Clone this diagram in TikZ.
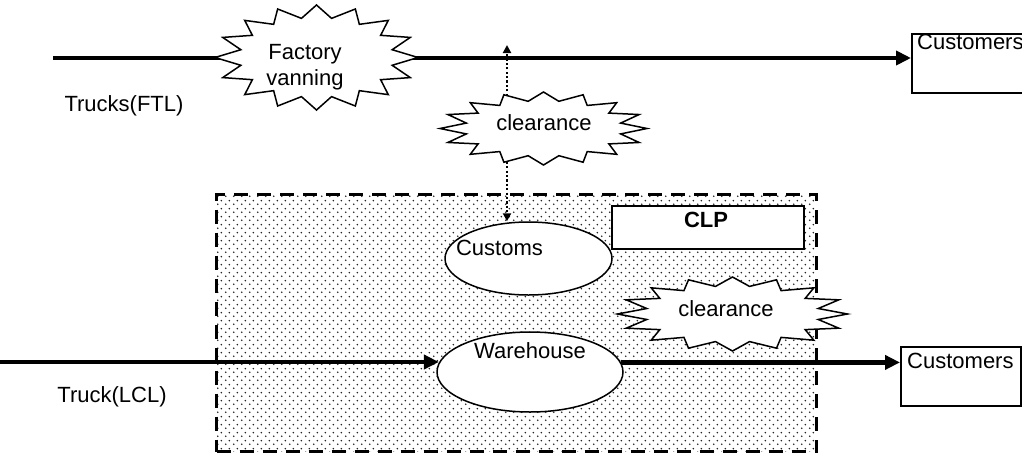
\documentclass[tikz,border=0pt]{standalone}
\usepackage{fontspec}
\setmainfont{Liberation Sans}
\usetikzlibrary{shapes.geometric,arrows.meta,patterns}

% staggered dot screen for the CLP zone
\pgfdeclarepatternformonly{dotscreen}{\pgfpointorigin}{\pgfpoint{8pt}{8pt}}{\pgfpoint{8pt}{8pt}}{%
  \pgfpathcircle{\pgfpoint{2pt}{2pt}}{1pt}
  \pgfpathcircle{\pgfpoint{6pt}{6pt}}{1pt}
  \pgfusepath{fill}}

\pgfdeclarelayer{zone}
\pgfdeclarelayer{flows}
\pgfsetlayers{zone,flows,main}

% 16-point burst around a centre, stretched to radii rx, ry
\newcommand\burstshape[4]{%
  \draw[burst] plot[variable=\k, samples at={0,...,31}]
    ({#1+#3*ifthenelse(mod(\k,2)==0,1,0.76)*cos(\k*11.25)},
     {#2-#4*ifthenelse(mod(\k,2)==0,1,0.76)*sin(\k*11.25)}) -- cycle;}

\tikzset{
  burst/.style={draw=black, line width=1.5pt, fill=white, line join=miter},
  lbl/.style={inner sep=0pt, font=\fontsize{22}{26}\selectfont},
  boxnode/.style={draw=black, line width=1.5pt, fill=white, inner sep=0pt, anchor=north west},
  oval/.style={ellipse, draw=black, line width=1.5pt, fill=white, inner sep=0pt},
  flow/.style={line width=4.4pt, -{Triangle[length=15pt,width=14pt]}},
  check/.style={line width=2.2pt, dash pattern=on 2.2pt off 2.2pt, -{Triangle[length=8pt,width=8pt]}},
  zonebox/.style={draw=black, line width=3.2pt, dash pattern=on 14pt off 9pt,
                  pattern=dotscreen, pattern color=black!85, inner sep=0pt}
}

\begin{document}
\begin{tikzpicture}[x=1pt,y=-1pt]
\useasboundingbox (0,0) rectangle (1022,453);

% CLP zone
\begin{pgfonlayer}{zone}
  \node[zonebox, minimum width=600pt, minimum height=257pt, anchor=north west] (zone) at (215,193) {};
\end{pgfonlayer}

% boxes and ovals
\node[boxnode, minimum width=192pt, minimum height=43pt] (clp) at (611,205) {};
\node[lbl, font=\fontsize{22}{26}\selectfont\bfseries, anchor=base] (clptext) at (706,227) {CLP};

\node[boxnode, minimum width=125pt, minimum height=59pt] (cust1) at (911,33) {};
\node[lbl, anchor=base west] (cust1text) at (917,49) {Customers};

\node[boxnode, minimum width=120pt, minimum height=59pt] (cust2) at (900,346) {};
\node[lbl, anchor=base west] (cust2text) at (907,368) {Customers};

\node[oval, minimum width=167pt, minimum height=73pt] (customs) at (528.5,258.5) {};
\node[lbl, anchor=base] (customstext) at (499.5,255) {Customs};

\node[oval, minimum width=186pt, minimum height=80pt] (wh) at (530,372) {};
\node[lbl, anchor=base] (whtext) at (530,358) {Warehouse};

% bursts
\burstshape{316.5}{57.5}{101.5}{52.5}
\node[lbl, align=center] (fv) at (305,67.4) {Factory\\vanning};

\burstshape{543.5}{128.5}{103.5}{36.5}
\node[lbl, anchor=base] (clr1) at (544,130) {clearance};

\burstshape{732.5}{314}{115}{37}
\node[lbl, anchor=base] (clr2) at (726,316) {clearance};

% side labels
\node[lbl, anchor=base] (ftl) at (124,111) {Trucks(FTL)};
\node[lbl, anchor=base] (lcl) at (112,402) {Truck(LCL)};

% flows
\coordinate (ftlstart) at (53,58);
\coordinate (lclstart) at (0,362);
\coordinate (uptip) at (507,45);
\begin{pgfonlayer}{flows}
  \draw[flow] (ftlstart) -- (ftlstart -| cust1.west);
  \draw[flow] (lclstart) -- (lclstart -| wh.174);
  \draw[flow] (wh.6) -- (wh.6 -| cust2.west);
  \draw[check] (uptip |- clr1) -- (uptip);
  \draw[check] (uptip |- clr1) -- (uptip |- customs.north);
\end{pgfonlayer}
\end{tikzpicture}
\end{document}
